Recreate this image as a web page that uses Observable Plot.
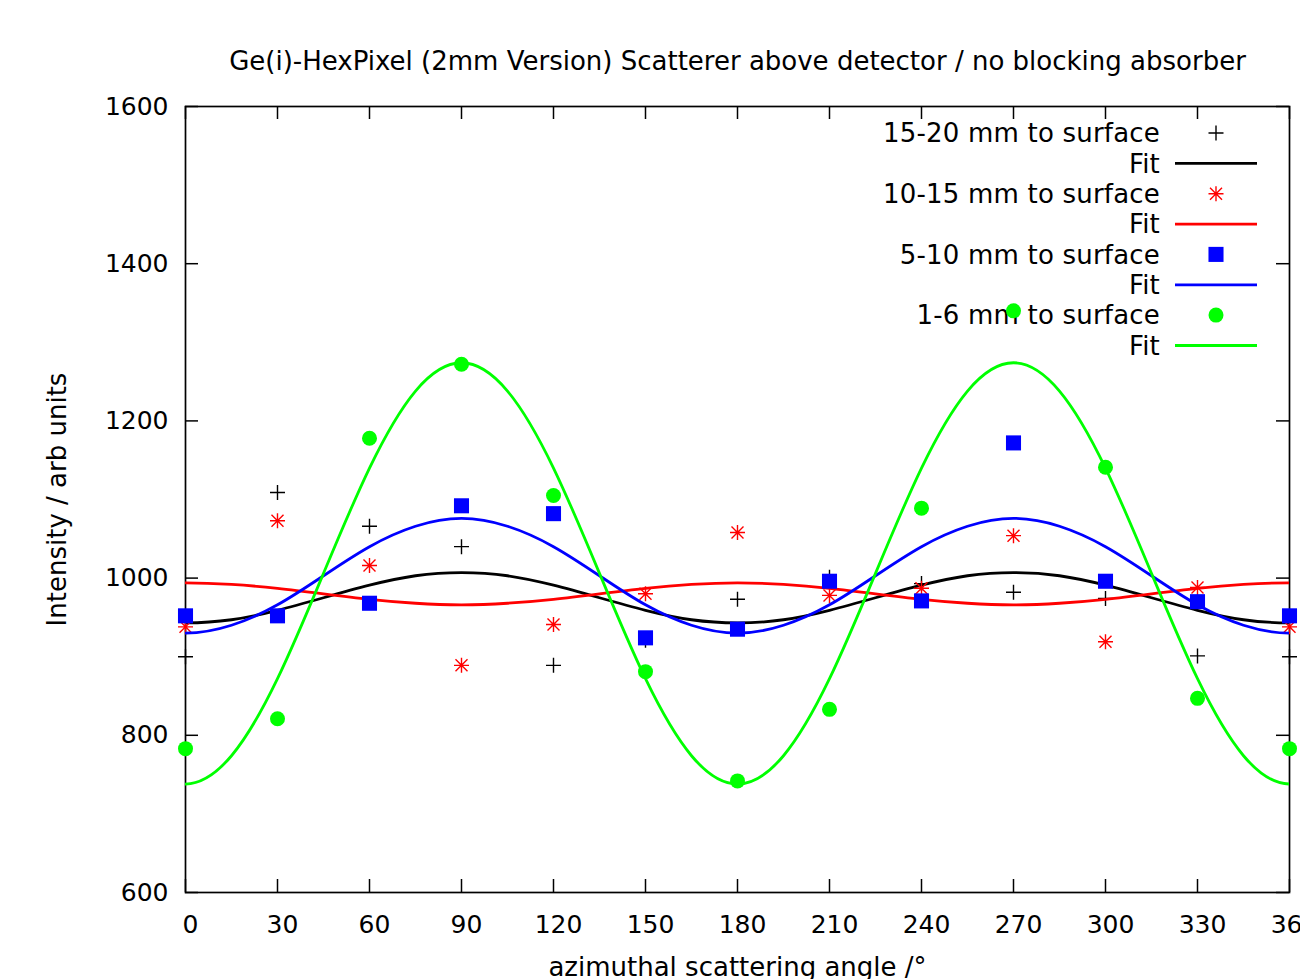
<!DOCTYPE html>
<html>
<head>
<meta charset="utf-8">
<script src="https://cdn.jsdelivr.net/npm/d3@7"></script>
<script src="https://cdn.jsdelivr.net/npm/@observablehq/plot@0.6"></script>
<style>
  html, body { margin: 0; padding: 0; background: white; overflow: hidden; }
  #chart svg { display: block; }
</style>
</head>
<body>
<div id="chart"></div>
<script>
// ---- data ----
const angles = [0, 30, 60, 90, 120, 150, 180, 210, 240, 270, 300, 330, 360];
const depth15to20 = [900, 1109, 1066, 1040, 889, 921, 973, 1001, 993, 982, 974, 901, 900];
const depth10to15 = [938, 1073, 1016, 889, 941, 980, 1058, 978, 987, 1054, 919, 988, 938];
const depth5to10  = [952, 952, 968, 1092, 1082, 924, 935, 996, 971, 1172, 996, 970, 952];
const depth1to6   = [783, 821, 1178, 1272, 1105, 881, 742, 833, 1089, 1340, 1141, 847, 783];

const fitAngles = [-30, -15, 0, 15, 30, 45, 60, 75, 90, 105, 120, 135, 150, 165, 180, 195, 210, 225, 240, 255, 270, 285, 300, 315, 330, 345, 360, 375, 390];
const fit15to20 = [959, 947, 943, 947, 959, 975, 991, 1003, 1007, 1003, 991, 975, 959, 947, 943, 947, 959, 975, 991, 1003, 1007, 1003, 991, 975, 959, 947, 943, 947, 959];
const fit10to15 = [987, 992, 994, 992, 987, 980, 973, 968, 966, 968, 973, 980, 987, 992, 994, 992, 987, 980, 973, 968, 966, 968, 973, 980, 987, 992, 994, 992, 987];
const fit5to10  = [966, 940, 930, 940, 966, 1003, 1040, 1066, 1076, 1066, 1040, 1003, 966, 940, 930, 940, 966, 1003, 1040, 1066, 1076, 1066, 1040, 1003, 966, 940, 930, 940, 966];
const fit1to6   = [872, 774, 738, 774, 872, 1006, 1140, 1238, 1274, 1238, 1140, 1006, 872, 774, 738, 774, 872, 1006, 1140, 1238, 1274, 1238, 1140, 1006, 872, 774, 738, 774, 872];

const seriesLabels = ["15-20 mm to surface", "10-15 mm to surface", "5-10 mm to surface", "1-6 mm to surface"];
const fitLabel = "Fit";
const xTicks = [0, 30, 60, 90, 120, 150, 180, 210, 240, 270, 300, 330, 360];
const yTicks = [600, 800, 1000, 1200, 1400, 1600];
const title = "Ge(i)-HexPixel (2mm Version) Scatterer above detector / no blocking absorber";
const xLabel = "azimuthal scattering angle /\u00B0";
const yLabel = "Intensity / arb units";

// ---- symbols (gnuplot style) ----
const plusSym = {
  draw(ctx, size) {
    const r = Math.sqrt(size / Math.PI);
    ctx.moveTo(-r, 0); ctx.lineTo(r, 0);
    ctx.moveTo(0, -r); ctx.lineTo(0, r);
  }
};
const starSym = {
  draw(ctx, size) {
    const r = Math.sqrt(size / Math.PI);
    const d = r * 0.8;
    ctx.moveTo(-r, 0); ctx.lineTo(r, 0);
    ctx.moveTo(0, -r); ctx.lineTo(0, r);
    ctx.moveTo(-d, -d); ctx.lineTo(d, d);
    ctx.moveTo(-d, d); ctx.lineTo(d, -d);
  }
};

const series = [
  {label: seriesLabels[0], values: depth15to20, fit: fit15to20, color: "#000000", symbol: plusSym, r: 7.5, filled: false},
  {label: seriesLabels[1], values: depth10to15, fit: fit10to15, color: "#ff0000", symbol: starSym, r: 7.5, filled: false},
  {label: seriesLabels[2], values: depth5to10,  fit: fit5to10,  color: "#0000ff", symbol: "square", r: 8.5, filled: true},
  {label: seriesLabels[3], values: depth1to6,   fit: fit1to6,   color: "#00ff00", symbol: "circle", r: 7.5, filled: true}
];

const FONT = "DejaVu Sans, Verdana, sans-serif";
const FS = 25;      // tick numbers
const FT = 26;      // words
const LS = "0.2px";

function symbolType(s) {
  if (s === "square") return d3.symbolSquare;
  if (s === "circle") return d3.symbolCircle;
  return s;
}

// legend drawn as a render-function mark (beneath the data, like gnuplot)
function legendMark(index, scales, values, dim) {
  const g = d3.create("svg:g")
    .attr("font-family", FONT)
    .attr("font-size", FT)
    .attr("letter-spacing", LS)
    .attr("fill", "black");
  const right = dim.width - dim.marginRight;
  const top = dim.marginTop;
  series.forEach((s, i) => {
    const yText = top + 27 + 60.7 * i;
    const yFit = yText + 30.4;
    g.append("text")
      .attr("x", right - 129).attr("y", yText).attr("dy", "0.36em")
      .attr("text-anchor", "end").text(s.label);
    g.append("text")
      .attr("x", right - 129).attr("y", yFit).attr("dy", "0.36em")
      .attr("text-anchor", "end").text(fitLabel);
    g.append("path")
      .attr("transform", `translate(${right - 73},${yText})`)
      .attr("d", d3.symbol(symbolType(s.symbol), Math.PI * s.r * s.r)())
      .attr("fill", s.filled ? s.color : "none")
      .attr("stroke", s.filled ? "none" : s.color)
      .attr("stroke-width", 1.4);
    g.append("line")
      .attr("x1", right - 114).attr("x2", right - 32)
      .attr("y1", yFit).attr("y2", yFit)
      .attr("stroke", s.color).attr("stroke-width", 2.8);
  });
  return g.node();
}

const W = 1300, H = 979;
const mTop = 106, mBottom = 87, mLeft = 185, mRight = 11;
const plotW = W - mLeft - mRight, plotH = H - mTop - mBottom;
const TICK = 13;

const marks = [
  Plot.frame({stroke: "black", strokeWidth: 1.7}),
  // inward ticks on all four sides
  Plot.tickX(xTicks, {x: d => d, insetTop: plotH - TICK, stroke: "black", strokeWidth: 1.5}),
  Plot.tickX(xTicks, {x: d => d, insetBottom: plotH - TICK, stroke: "black", strokeWidth: 1.5}),
  Plot.tickY(yTicks, {y: d => d, insetRight: plotW - TICK, stroke: "black", strokeWidth: 1.5}),
  Plot.tickY(yTicks, {y: d => d, insetLeft: plotW - TICK, stroke: "black", strokeWidth: 1.5}),
  // tick labels
  Plot.text(xTicks, {x: d => d, text: d => String(d), frameAnchor: "bottom", lineAnchor: "middle", textAnchor: "middle", dy: 32, dx: 5, fontSize: FS, fill: "black"}),
  Plot.text(yTicks, {y: d => d, text: d => String(d), frameAnchor: "left", lineAnchor: "middle", textAnchor: "end", dx: -17, fontSize: FS, fill: "black"}),
  // title and axis labels
  Plot.text([title], {text: d => d, frameAnchor: "top", lineAnchor: "middle", textAnchor: "middle", dy: -45, fontSize: FT, fill: "black", letterSpacing: LS}),
  Plot.text([xLabel], {text: d => d, frameAnchor: "bottom", lineAnchor: "middle", textAnchor: "middle", dy: 75, fontSize: FT, fill: "black", letterSpacing: LS}),
  Plot.text([yLabel], {text: d => d, frameAnchor: "left", lineAnchor: "middle", textAnchor: "middle", rotate: -90, dx: -128, fontSize: FT, fill: "black", letterSpacing: LS}),
  legendMark
];

for (const s of series) {
  const pts = angles.map((a, i) => ({angle: a, value: s.values[i]}));
  const fitPts = fitAngles.map((a, i) => ({angle: a, value: s.fit[i]}));
  marks.push(Plot.dot(pts, {
    x: "angle", y: "value",
    symbol: symbolType(s.symbol), r: s.r,
    fill: s.filled ? s.color : "none",
    stroke: s.filled ? "none" : s.color,
    strokeWidth: 1.4
  }));
  marks.push(Plot.line(fitPts, {
    x: "angle", y: "value", curve: "natural", clip: true,
    stroke: s.color, strokeWidth: 2.8
  }));
}

const chart = Plot.plot({
  width: W, height: H,
  marginTop: mTop, marginBottom: mBottom, marginLeft: mLeft, marginRight: mRight,
  x: {domain: [0, 360], axis: null},
  y: {domain: [600, 1600], axis: null},
  style: {fontFamily: FONT, fontSize: FS + "px", background: "white", color: "black"},
  marks
});
document.getElementById("chart").appendChild(chart);
</script>
</body>
</html>
